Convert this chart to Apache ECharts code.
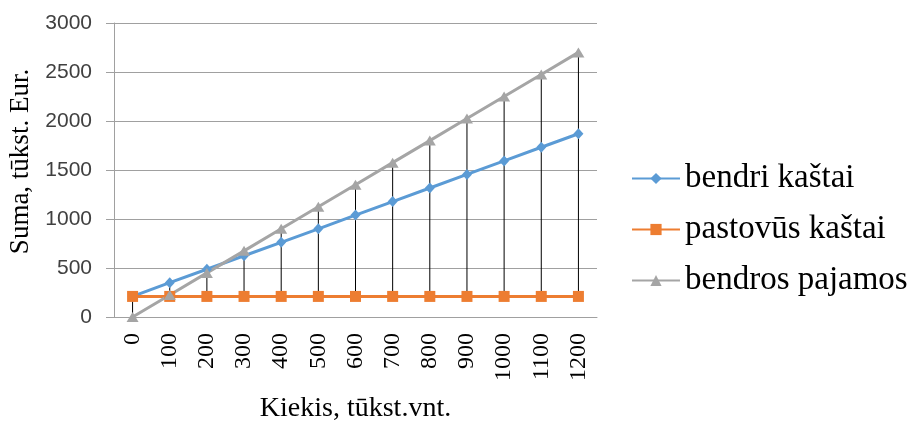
<!DOCTYPE html>
<html>
<head>
<meta charset="utf-8">
<script src="https://cdn.jsdelivr.net/npm/echarts@6/dist/echarts.min.js"></script>
<style>
  html, body { margin: 0; padding: 0; background: #ffffff; }
  #chart { width: 909px; height: 421px; }
</style>
</head>
<body>
<div id="chart"></div>
<script>
// Quantity (thousand units) on the horizontal axis
const kiekis = ['0', '100', '200', '300', '400', '500', '600', '700', '800', '900', '1000', '1100', '1200'];
// Total costs
const bendriKastai = [210, 350, 487, 625, 762, 900, 1040, 1178, 1316, 1455, 1593, 1732, 1870];
// Fixed costs
const pastovusKastai = [210, 210, 210, 210, 210, 210, 210, 210, 210, 210, 210, 210, 210];
// Total revenue
const bendrosPajamos = [0, 225, 450, 675, 900, 1125, 1350, 1575, 1800, 2025, 2250, 2475, 2700];
// Value axis ticks
const yTicks = [0, 500, 1000, 1500, 2000, 2500, 3000];

// Vertical drop lines spanning all series at each category
const dropLines = kiekis.map((_, i) => {
  const vals = [bendriKastai[i], pastovusKastai[i], bendrosPajamos[i]];
  return [i, Math.min(...vals), Math.max(...vals)];
});

const serif = '"Liberation Serif", "Times New Roman", serif';
const sans = '"Liberation Sans", Arial, sans-serif';

const chart = echarts.init(document.getElementById('chart'), null, { renderer: 'canvas' });
chart.setOption({
  animation: false,
  backgroundColor: '#ffffff',
  grid: { left: 114, right: 312, top: 23, bottom: 104, containLabel: false, outerBoundsMode: 'none' },
  legend: {
    orient: 'vertical',
    left: 626,
    top: 157,
    itemWidth: 48,
    itemHeight: 14,
    itemGap: 18,
    textStyle: { fontFamily: serif, fontSize: 33, lineHeight: 32, color: '#000000' },
    data: ['bendri kaštai', 'pastovūs kaštai', 'bendros pajamos']
  },
  xAxis: {
    type: 'category',
    data: kiekis,
    boundaryGap: true,
    name: 'Kiekis, tūkst.vnt.',
    nameLocation: 'middle',
    nameGap: 78,
    nameTextStyle: { fontFamily: serif, fontSize: 28, color: '#000000' },
    axisLine: { lineStyle: { color: '#a0a0a0', width: 1 } },
    axisTick: { show: false },
    axisLabel: { rotate: 90, margin: 16, fontFamily: serif, fontSize: 24, color: '#000000' },
    splitLine: { show: false }
  },
  yAxis: {
    type: 'value',
    min: yTicks[0],
    max: yTicks[yTicks.length - 1],
    interval: 500,
    name: 'Suma, tūkst. Eur.',
    nameLocation: 'middle',
    nameGap: 72,
    nameRotate: 90,
    nameTextStyle: { fontFamily: serif, fontSize: 27, color: '#000000', padding: [0, 0, 0, 17] },
    axisLine: { show: true, lineStyle: { color: '#a0a0a0', width: 1 } },
    axisTick: { show: true, length: 8, lineStyle: { color: '#a0a0a0' } },
    axisLabel: {
      margin: 22, fontFamily: sans, fontSize: 21, color: '#404040',
      formatter: v => String(v)
    },
    splitLine: { lineStyle: { color: '#a0a0a0', width: 1 } }
  },
  series: [
    {
      type: 'custom',
      name: 'drop',
      z: 1,
      silent: true,
      data: dropLines,
      encode: { x: 0, y: [1, 2] },
      renderItem: function (params, api) {
        const lo = api.coord([api.value(0), api.value(1)]);
        const hi = api.coord([api.value(0), api.value(2)]);
        return {
          type: 'line',
          shape: { x1: lo[0], y1: lo[1], x2: hi[0], y2: hi[1] },
          style: { stroke: '#000000', lineWidth: 1 }
        };
      }
    },
    {
      name: 'bendri kaštai',
      type: 'line',
      z: 3,
      data: bendriKastai,
      symbol: 'diamond',
      symbolSize: [10, 11],
      showAllSymbol: true,
      lineStyle: { color: '#5b9bd5', width: 3 },
      itemStyle: { color: '#5b9bd5' }
    },
    {
      name: 'pastovūs kaštai',
      type: 'line',
      z: 3,
      data: pastovusKastai,
      symbol: 'rect',
      symbolSize: 11,
      showAllSymbol: true,
      lineStyle: { color: '#ed7d31', width: 3 },
      itemStyle: { color: '#ed7d31' }
    },
    {
      name: 'bendros pajamos',
      type: 'line',
      z: 3,
      data: bendrosPajamos,
      symbol: 'triangle',
      symbolSize: [12, 10],
      showAllSymbol: true,
      lineStyle: { color: '#a5a5a5', width: 3 },
      itemStyle: { color: '#a5a5a5' }
    }
  ]
});
</script>
</body>
</html>
